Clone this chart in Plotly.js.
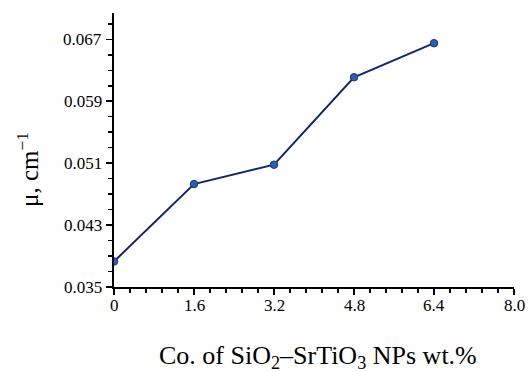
<!DOCTYPE html>
<html>
<head>
<meta charset="utf-8">
<script src="https://cdn.plot.ly/plotly-3.0.1.min.js"></script>
<style>
html,body{margin:0;padding:0;background:#fff;}
#chart{width:528px;height:372px;}
#chart text{font-family:'Liberation Serif',serif !important;}
</style>
</head>
<body>
<div id="chart"></div>
<script>
const concentration = [0, 1.6, 3.2, 4.8, 6.4];
const mu = [0.0383, 0.0483, 0.0508, 0.0621, 0.0665];
const xTicks = [0, 1.6, 3.2, 4.8, 6.4, 8.0];
const xTickLabels = ["0", "1.6", "3.2", "4.8", "6.4", "8.0"];
const yTicks = [0.035, 0.043, 0.051, 0.059, 0.067];
const yTickLabels = ["0.035", "0.043", "0.051", "0.059", "0.067"];
const xTitle = "Co. of SiO<sub>2</sub>–SrTiO<sub>3</sub> NPs wt.%";
const yTitle = "μ, cm<sup>−1</sup>";

const serif = "Liberation Serif";
const tickFont = {family: serif, size: 17, color: "#000"};

const trace = {
  x: concentration, y: mu, type: "scatter", mode: "lines+markers",
  line: {color: "#112768", width: 2},
  marker: {color: "#2f5db0", size: 7.5, line: {color: "#1a3580", width: 1}},
  hoverinfo: "skip"
};

const annotations = [];
xTicks.forEach(function (v, i) {
  annotations.push({text: xTickLabels[i], x: v, xref: "x", y: 0, yref: "paper",
    xanchor: "center", yanchor: "top", yshift: -7, showarrow: false, font: tickFont});
});
yTicks.forEach(function (v, i) {
  annotations.push({text: yTickLabels[i], x: 0, xref: "paper", y: v, yref: "y",
    xanchor: "right", yanchor: "middle", xshift: -10, showarrow: false, font: tickFont});
});
annotations.push({text: xTitle, xref: "paper", yref: "paper", x: 0.51, y: -0.255,
  xanchor: "center", yanchor: "middle", showarrow: false, font: {family: serif, size: 26, color: "#000"}});
annotations.push({text: yTitle, xref: "paper", yref: "paper", x: -0.215, y: 0.427,
  xanchor: "center", yanchor: "middle", textangle: -90, showarrow: false, font: {family: serif, size: 25, color: "#000"}});

const layout = {
  width: 528, height: 372,
  margin: {l: 114, r: 14, t: 13, b: 85},
  paper_bgcolor: "#fff", plot_bgcolor: "#fff",
  showlegend: false,
  font: {family: serif, size: 17, color: "#000"},
  xaxis: {
    range: [0, 8.0], tickmode: "array", tickvals: xTicks, showticklabels: false,
    showgrid: false, zeroline: false, showline: true, linecolor: "#000", linewidth: 2,
    ticks: "outside", ticklen: 6, tickwidth: 1.5, tickcolor: "#000",
    minor: {tickmode: "linear", dtick: 0.32, tick0: 0, ticks: "outside", ticklen: 4, tickwidth: 1.5, tickcolor: "#000", showgrid: false}
  },
  yaxis: {
    range: [0.035, 0.0704], tickmode: "array", tickvals: yTicks, showticklabels: false,
    showgrid: false, zeroline: false, showline: true, linecolor: "#000", linewidth: 2,
    ticks: "outside", ticklen: 6, tickwidth: 1.5, tickcolor: "#000",
    minor: {tickmode: "linear", dtick: 0.002, tick0: 0.035, ticks: "outside", ticklen: 4, tickwidth: 1.5, tickcolor: "#000", showgrid: false}
  },
  annotations: annotations
};

Plotly.newPlot("chart", [trace], layout, {staticPlot: true, displayModeBar: false});
</script>
</body>
</html>
